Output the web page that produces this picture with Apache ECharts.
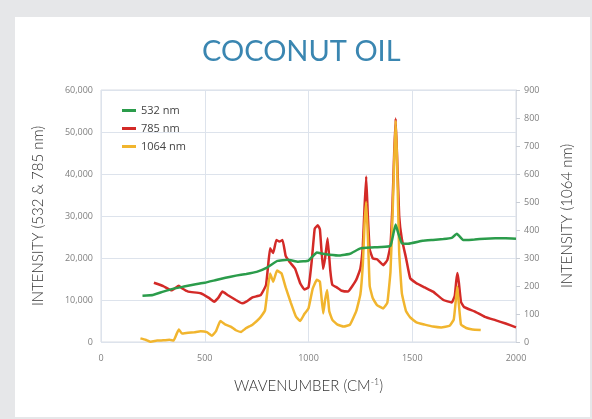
<!DOCTYPE html>
<html>
<head>
<meta charset="utf-8">
<script src="https://cdn.jsdelivr.net/npm/echarts@6/dist/echarts.min.js"></script>
<style>
  html, body { margin: 0; padding: 0; background: #e6e7e9; }
  #panel { position: absolute; left: 15px; top: 17px; width: 575px; height: 400px; background: #fff; }
  #chart { position: absolute; left: 0; top: 0; width: 592px; height: 419px; }
</style>
</head>
<body>
<div id="panel"></div>
<div id="chart"></div>
<script>
'use strict';

// 532 nm (left axis)
const greenX = [200, 250, 300, 350, 400, 450, 500, 550, 600, 650, 700, 750, 800, 850, 900, 950, 1000, 1040, 1070, 1100, 1150, 1200, 1250, 1300, 1350, 1395, 1410, 1420, 1432, 1450, 1480, 1550, 1600, 1650, 1690, 1705, 1715, 1725, 1745, 1770, 1800, 1850, 1900, 1950, 2000];
const greenY = [11000, 11200, 12000, 12700, 13200, 13700, 14100, 14700, 15300, 15800, 16200, 16700, 17700, 19300, 19600, 19100, 19400, 21300, 21000, 20800, 20600, 21000, 22300, 22500, 22600, 22900, 26000, 28000, 26000, 23500, 23400, 24100, 24300, 24500, 24800, 25400, 25800, 25300, 24300, 24300, 24400, 24600, 24700, 24700, 24600];

// 785 nm (left axis)
const redX = [255, 300, 340, 375, 390, 420, 480, 520, 545, 565, 585, 610, 650, 680, 700, 730, 770, 795, 805, 815, 830, 845, 860, 875, 890, 910, 935, 960, 980, 1000, 1015, 1030, 1045, 1055, 1070, 1080, 1092, 1105, 1115, 1136, 1160, 1190, 1230, 1250, 1262, 1270, 1278, 1286, 1295, 1310, 1330, 1360, 1380, 1395, 1405, 1413, 1420, 1427, 1437, 1450, 1470, 1490, 1520, 1560, 1600, 1650, 1690, 1705, 1712, 1718, 1725, 1735, 1750, 1800, 1850, 1900, 1950, 2000];
const redY = [14100, 13300, 12300, 13400, 12800, 12000, 11600, 10500, 9600, 10500, 12000, 11200, 10000, 9200, 9600, 10600, 11200, 13500, 18000, 22300, 21200, 24300, 23900, 24300, 20500, 19000, 17500, 14000, 12500, 13000, 19000, 27000, 27800, 26800, 17400, 20000, 24700, 17000, 13600, 13000, 12200, 12000, 14800, 17500, 23000, 32000, 39400, 30000, 22000, 19900, 19700, 18300, 19500, 23000, 33000, 45000, 53200, 44000, 30000, 24500, 20000, 15200, 14000, 13000, 12000, 10000, 9400, 11000, 14500, 16400, 14000, 9500, 8300, 7300, 6000, 5200, 4400, 3500];

// 1064 nm (right axis)
const yellowX = [190, 215, 240, 270, 300, 330, 350, 365, 375, 390, 420, 450, 480, 510, 535, 555, 575, 600, 625, 650, 675, 700, 730, 765, 790, 805, 815, 830, 848, 870, 890, 915, 940, 960, 980, 1000, 1020, 1040, 1055, 1071, 1080, 1090, 1100, 1115, 1140, 1170, 1200, 1230, 1250, 1262, 1270, 1278, 1286, 1295, 1310, 1330, 1360, 1380, 1395, 1405, 1413, 1420, 1427, 1437, 1450, 1470, 1490, 1520, 1560, 1600, 1640, 1680, 1700, 1710, 1717, 1724, 1735, 1760, 1790, 1830];
const yellowY = [13, 8, 1, 5, 6, 8, 5, 30, 45, 30, 33, 35, 38, 35, 22, 40, 75, 62, 55, 42, 36, 50, 62, 85, 112, 200, 245, 215, 255, 245, 195, 140, 90, 75, 100, 120, 190, 222, 215, 102, 150, 186, 110, 79, 62, 55, 62, 110, 170, 280, 420, 500, 380, 200, 156, 132, 120, 140, 250, 450, 650, 790, 640, 320, 174, 110, 88, 70, 62, 55, 52, 58, 80, 150, 198, 140, 62, 50, 45, 43];

const names = ['532 nm', '785 nm', '1064 nm'];
const colors = ['#2b9c4b', '#d32a27', '#f1b52e'];

const pairs = (xs, ys) => xs.map((x, i) => [x, ys[i]]);

const tickFont = { color: '#7f7f7f', fontSize: 9, fontFamily: 'Open Sans' };
const nameFont = { color: '#333', fontSize: 15, fontFamily: 'Lato', fontWeight: 300 };

let chart = echarts.init(document.getElementById('chart'), null, { renderer: 'canvas' });

let option = {
    backgroundColor: 'transparent',
    animation: false,
    title: {
        text: 'COCONUT OIL',
        left: 197,
        top: 32,
        textStyle: { color: '#3a86b1', fontSize: 29, fontFamily: 'Lato', fontWeight: 'normal' }
    },
    legend: {
        data: names,
        orient: 'vertical',
        left: 117,
        top: 100,
        icon: 'rect',
        itemWidth: 14,
        itemHeight: 3,
        itemGap: 7,
        textStyle: { color: '#444', fontSize: 11, fontFamily: 'Open Sans' }
    },
    grid: { left: 101, right: 76, top: 90, bottom: 77, show: true, borderColor: '#d9dde4', borderWidth: 1 },
    xAxis: {
        type: 'value',
        min: 0, max: 2000, interval: 500,
        name: 'WAVENUMBER (CM{sup|-1})',
        nameLocation: 'middle',
        nameGap: 36,
        nameTextStyle: Object.assign({}, nameFont, {
            rich: { sup: { fontSize: 9, color: '#333', fontFamily: 'Lato', verticalAlign: 'top', padding: [0, 0, 8, 0] } }
        }),
        axisLine: { show: false },
        axisTick: { show: false },
        axisLabel: Object.assign({ margin: 12, formatter: v => String(v) }, tickFont),
        splitLine: { lineStyle: { color: '#dde3ec', width: 1 } }
    },
    yAxis: [
        {
            type: 'value',
            min: 0, max: 60000, interval: 10000,
            name: 'INTENSITY (532 & 785 nm)',
            nameLocation: 'middle',
            nameGap: 55,
            nameTextStyle: nameFont,
            axisLine: { show: false },
            axisTick: { show: false },
            axisLabel: Object.assign({ margin: 8, formatter: v => v.toLocaleString('en-US') }, tickFont),
            splitLine: { lineStyle: { color: '#dde3ec', width: 1 } }
        },
        {
            type: 'value',
            min: 0, max: 900, interval: 100,
            position: 'right',
            name: 'INTENSITY (1064 nm)',
            nameLocation: 'middle',
            nameGap: 44,
            nameRotate: 90,
            nameTextStyle: nameFont,
            axisLine: { show: true, lineStyle: { color: '#d9dde4' } },
            axisTick: { show: true, length: 4, lineStyle: { color: '#c9ced6' } },
            axisLabel: Object.assign({ margin: 8 }, tickFont),
            splitLine: { show: false }
        }
    ],
    series: [
        {
            name: names[1], type: 'line', yAxisIndex: 0,
            data: pairs(redX, redY),
            showSymbol: false, smooth: 0.1,
            lineStyle: { color: colors[1], width: 2.5 },
            itemStyle: { color: colors[1] }
        },
        {
            name: names[2], type: 'line', yAxisIndex: 1,
            data: pairs(yellowX, yellowY),
            showSymbol: false, smooth: 0.1,
            lineStyle: { color: colors[2], width: 2.5 },
            itemStyle: { color: colors[2] }
        },
        {
            name: names[0], type: 'line', yAxisIndex: 0,
            data: pairs(greenX, greenY),
            showSymbol: false, smooth: 0.1,
            lineStyle: { color: colors[0], width: 2.5 },
            itemStyle: { color: colors[0] }
        }
    ]
};

chart.setOption(option);
</script>
</body>
</html>
